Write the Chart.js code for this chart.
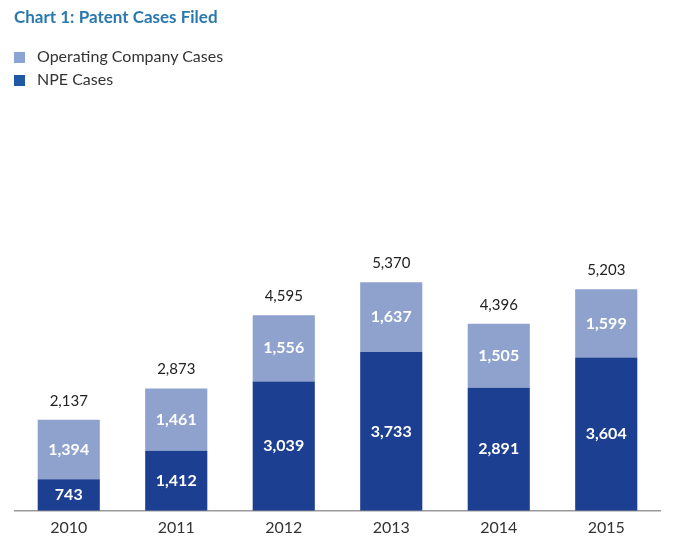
<!DOCTYPE html>
<html>
<head>
<meta charset="utf-8">
<script src="https://cdn.jsdelivr.net/npm/chart.js@4.4.1/dist/chart.umd.min.js"></script>
<style>
  html, body { margin: 0; padding: 0; background: #fff; }
  body { width: 700px; height: 557px; position: relative; overflow: hidden; font-family: Lato, sans-serif; }
  #title { position: absolute; left: 14px; top: 6px; font-size: 17px; font-weight: bold; color: #2a78ad; }
  #legend { position: absolute; left: 14px; top: 44px; font-size: 16px; color: #333; line-height: 23px; }
  #legend span.box { display: inline-block; width: 11px; height: 11px; margin-right: 12px; vertical-align: -1px; }
  #wrap { position: absolute; left: 0; top: 0; width: 700px; height: 557px; }
</style>
</head>
<body>
<div id="wrap"><canvas id="chart"></canvas></div>
<div id="title">Chart 1: Patent Cases Filed</div>
<div id="legend"></div>
<script>
/* Patent cases filed, stacked by plaintiff type */
const years = ['2010', '2011', '2012', '2013', '2014', '2015'];
const npeCases = [743, 1412, 3039, 3733, 2891, 3604];
const operatingCases = [1394, 1461, 1556, 1637, 1505, 1599];
const totals = [2137, 2873, 4595, 5370, 4396, 5203];

const colors = { npe: '#1d3f91', operating: '#8ea2cd', npeKey: '#2158a6', operatingKey: '#8ba4d3' };

const fmt = v => v.toLocaleString('en-US');

// html legend, stacked vertically like the original
document.getElementById('legend').innerHTML = [
    ['Operating Company Cases', colors.operatingKey],
    ['NPE Cases', colors.npeKey]
].map(([t, c]) => `<div><span class="box" style="background:${c}"></span>${t}</div>`).join('');

const barLabels = {
    id: 'barLabels',
    afterDatasetsDraw(chart) {
        const ctx = chart.ctx;
        ctx.save();
        ctx.textAlign = 'center';
        ctx.textBaseline = 'middle';
        // values inside segments
        ctx.font = 'bold 16px Lato, sans-serif';
        ctx.fillStyle = '#fff';
        chart.data.datasets.forEach((ds, di) => {
            chart.getDatasetMeta(di).data.forEach((bar, i) => {
                const mid = (bar.y + bar.base) / 2;
                ctx.fillText(fmt(ds.data[i]), bar.x, mid);
            });
        });
        // totals above each stack
        ctx.font = '15px Lato, sans-serif';
        ctx.fillStyle = '#222';
        const top = chart.getDatasetMeta(chart.data.datasets.length - 1).data;
        top.forEach((bar, i) => ctx.fillText(fmt(totals[i]), bar.x, bar.y - 19));
        ctx.restore();
    }
};

new Chart(document.getElementById('chart'), {
    type: 'bar',
    data: {
        labels: years,
        datasets: [
            { label: 'NPE Cases', data: npeCases, backgroundColor: colors.npe },
            { label: 'Operating Company Cases', data: operatingCases, backgroundColor: colors.operating }
        ]
    },
    options: {
        responsive: true,
        maintainAspectRatio: false,
        animation: false,
        layout: { padding: { left: 15, right: 40, top: 0, bottom: 13 } },
        datasets: { bar: { categoryPercentage: 1, barPercentage: 0.578 } },
        plugins: { legend: { display: false }, tooltip: { enabled: false } },
        scales: {
            x: {
                stacked: true,
                grid: { display: false, drawTicks: false },
                border: { color: '#9a9a9a', width: 1.5 },
                ticks: { color: '#333', font: { family: 'Lato, sans-serif', size: 16 }, padding: 7 }
            },
            y: { stacked: true, display: false, min: 0, max: 12000 }
        }
    },
    plugins: [barLabels]
});
</script>
</body>
</html>
